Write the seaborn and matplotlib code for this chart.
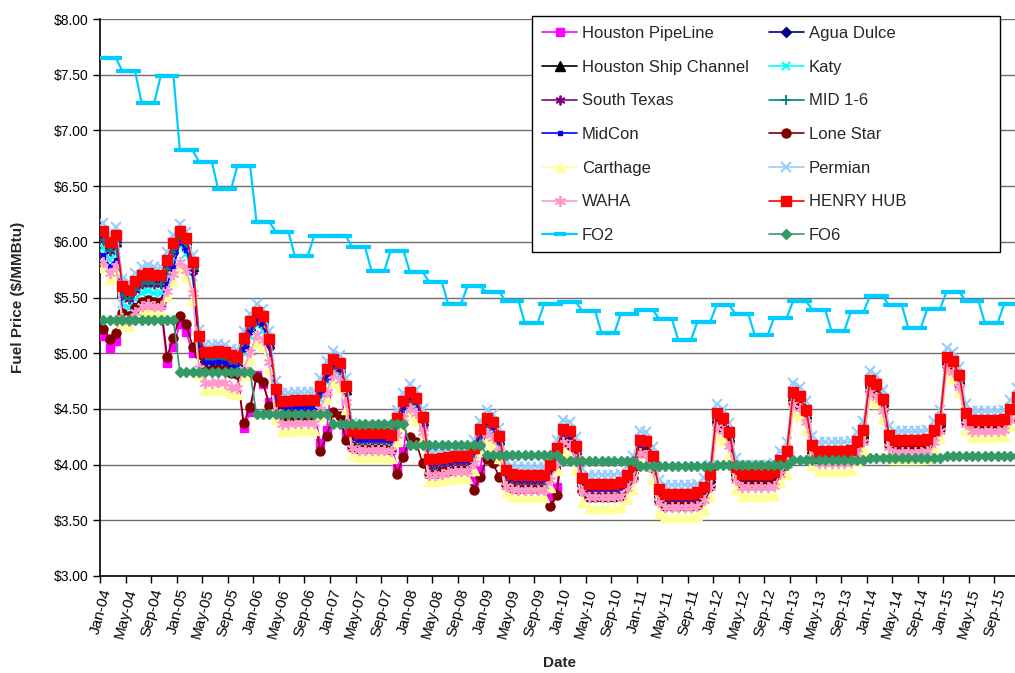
import numpy as np
import pandas as pd
import matplotlib
matplotlib.use("Agg")
import matplotlib.pyplot as plt
import seaborn as sns
from matplotlib.lines import Line2D
from matplotlib.patches import Rectangle
from matplotlib.ticker import FuncFormatter

# ---------------------------------------------------------------- data
# Henry Hub monthly forward prices, Jan-2004 .. Dec-2015 ($/MMBtu)
henry_hub = [
    6.10, 6.00, 6.06, 5.60, 5.57, 5.65, 5.70, 5.72, 5.70, 5.70, 5.84, 5.99,
    6.10, 6.03, 5.82, 5.15, 5.01, 5.01, 5.02, 5.01, 4.98, 4.97, 5.14, 5.29,
    5.37, 5.33, 5.13, 4.68, 4.57, 4.57, 4.58, 4.58, 4.58, 4.58, 4.71, 4.86,
    4.95, 4.91, 4.71, 4.30, 4.28, 4.28, 4.28, 4.28, 4.28, 4.27, 4.42, 4.57,
    4.65, 4.60, 4.43, 4.05, 4.05, 4.06, 4.07, 4.08, 4.08, 4.08, 4.15, 4.32,
    4.42, 4.38, 4.26, 3.95, 3.92, 3.91, 3.91, 3.91, 3.91, 3.91, 4.00, 4.15,
    4.32, 4.30, 4.17, 3.88, 3.83, 3.83, 3.83, 3.83, 3.83, 3.84, 3.91, 4.00,
    4.22, 4.21, 4.08, 3.78, 3.74, 3.74, 3.74, 3.74, 3.74, 3.75, 3.80, 3.92,
    4.46, 4.42, 4.29, 3.98, 3.92, 3.92, 3.92, 3.92, 3.92, 3.93, 4.04, 4.12,
    4.65, 4.62, 4.49, 4.18, 4.12, 4.12, 4.12, 4.12, 4.12, 4.13, 4.21, 4.31,
    4.76, 4.72, 4.59, 4.27, 4.22, 4.22, 4.22, 4.22, 4.22, 4.23, 4.31, 4.41,
    4.97, 4.93, 4.80, 4.46, 4.40, 4.40, 4.40, 4.40, 4.40, 4.41, 4.50, 4.61,
]

# Yearly basis to Henry Hub for each gas hub, 2004 .. 2015 ($/MMBtu)
basis_houston_pipeline = [-0.27, -0.13, -0.09, -0.06, -0.08, -0.08, -0.06, -0.06, -0.07, -0.07, -0.07, -0.07]
basis_agua_dulce = [-0.06, -0.05, -0.05, -0.04, -0.04, -0.04, -0.04, -0.04, -0.04, -0.04, -0.03, -0.03]
basis_ship_channel = [-0.05, -0.04, -0.04, -0.03, -0.03, -0.03, -0.03, -0.03, -0.03, -0.03, -0.02, -0.02]
basis_katy = [-0.16, -0.14, -0.12, -0.11, -0.10, -0.10, -0.09, -0.08, -0.07, -0.07, -0.06, -0.05]
basis_south_texas = [-0.08, -0.08, -0.07, -0.06, -0.06, -0.06, -0.05, -0.05, -0.06, -0.06, -0.06, -0.06]
basis_mid_1_6 = [-0.08, -0.06, -0.05, -0.05, -0.05, -0.05, -0.05, -0.05, -0.05, -0.05, -0.05, -0.05]
basis_midcon = [-0.22, -0.10, -0.06, -0.05, -0.04, -0.04, -0.04, -0.04, -0.04, -0.04, -0.03, -0.03]
basis_lone_star = [-0.24, -0.16, -0.15, -0.14, -0.13, -0.13, -0.12, -0.11, -0.10, -0.09, -0.09, -0.08]
basis_carthage = [-0.33, -0.34, -0.27, -0.21, -0.20, -0.20, -0.22, -0.21, -0.20, -0.18, -0.17, -0.15]
basis_permian = [0.07, 0.06, 0.07, 0.07, 0.07, 0.07, 0.08, 0.08, 0.08, 0.08, 0.08, 0.08]
basis_waha = [-0.28, -0.28, -0.21, -0.15, -0.14, -0.14, -0.12, -0.12, -0.12, -0.11, -0.11, -0.10]

# Winter months where Lone Star / Houston PipeLine trade well below the pack
lone_star_winter = {
    "2004-01": 5.22, "2004-02": 5.13, "2004-03": 5.18,
    "2004-11": 4.97, "2004-12": 5.14, "2005-01": 5.33, "2005-02": 5.26, "2005-03": 5.06,
    "2005-11": 4.37, "2005-12": 4.52, "2006-01": 4.79, "2006-02": 4.74, "2006-03": 4.53,
    "2006-11": 4.12, "2006-12": 4.26, "2007-01": 4.47, "2007-02": 4.44, "2007-03": 4.22,
    "2007-11": 3.92, "2007-12": 4.07, "2008-01": 4.25, "2008-02": 4.20, "2008-03": 4.01,
    "2008-11": 3.77, "2008-12": 3.89, "2009-01": 4.05, "2009-02": 4.01, "2009-03": 3.89,
    "2009-11": 3.63, "2009-12": 3.73,
}
houston_pipeline_winter = {
    "2004-01": 5.15, "2004-02": 5.05, "2004-03": 5.11,
    "2004-11": 4.91, "2004-12": 5.06, "2005-01": 5.26, "2005-02": 5.19, "2005-03": 5.00,
    "2005-11": 4.33, "2005-12": 4.47, "2006-01": 4.80, "2006-02": 4.72, "2006-03": 4.56,
    "2006-11": 4.19, "2006-12": 4.31, "2007-03": 4.28,
    "2007-11": 3.97, "2007-12": 4.12,
    "2008-11": 3.85, "2008-12": 3.95,
    "2009-11": 3.71, "2009-12": 3.80,
}

# Fuel oil: No.2 quarterly, No.6 yearly ($/MMBtu)
fo2_quarterly = [
    7.65, 7.53, 7.25, 7.49,
    6.82, 6.72, 6.47, 6.68,
    6.18, 6.09, 5.87, 6.05,
    6.05, 5.95, 5.74, 5.92,
    5.73, 5.64, 5.44, 5.60,
    5.55, 5.47, 5.27, 5.44,
    5.46, 5.38, 5.18, 5.35,
    5.39, 5.31, 5.12, 5.28,
    5.43, 5.35, 5.16, 5.32,
    5.47, 5.39, 5.20, 5.37,
    5.51, 5.43, 5.23, 5.40,
    5.55, 5.47, 5.27, 5.44,
]
fo6_yearly = [5.30, 4.83, 4.45, 4.36, 4.18, 4.09, 4.03, 3.99, 4.00, 4.04, 4.06, 4.08]

tick_labels = [f"{m}-{y:02d}" for y in range(4, 16) for m in ("Jan", "May", "Sep")]

# ---------------------------------------------------------------- frame
months = pd.date_range("2004-01-01", periods=144, freq="MS")
df = pd.DataFrame({"x": np.arange(144) + 0.5, "month": months.strftime("%Y-%m")})
year_idx = months.year - 2004
hh = np.array(henry_hub)


def hub(basis, winter=None):
    vals = hh + np.array(basis)[year_idx]
    if winter:
        for key, v in winter.items():
            vals[df.index[df["month"] == key][0]] = v
    return vals


df["Houston PipeLine"] = hub(basis_houston_pipeline, houston_pipeline_winter)
df["Agua Dulce"] = hub(basis_agua_dulce)
df["Houston Ship Channel"] = hub(basis_ship_channel)
df["Katy"] = hub(basis_katy)
df["South Texas"] = hub(basis_south_texas)
df["MID 1-6"] = hub(basis_mid_1_6)
df["MidCon"] = hub(basis_midcon)
df["Lone Star"] = hub(basis_lone_star, lone_star_winter)
df["Carthage"] = hub(basis_carthage)
df["Permian"] = hub(basis_permian)
df["WAHA"] = hub(basis_waha)
df["HENRY HUB"] = hh
df["FO2"] = np.repeat(fo2_quarterly, 3)
df["FO6"] = np.repeat(fo6_yearly, 12)

asterisk = (6, 2, 0)
styles = {
    "Houston PipeLine": dict(color="#FF00FF", marker="s", ms=6),
    "Agua Dulce": dict(color="#000080", marker="D", ms=5),
    "Houston Ship Channel": dict(color="#000000", marker="^", ms=6.5),
    "Katy": dict(color="#00FFFF", marker="x", ms=6, mew=1.5),
    "South Texas": dict(color="#800080", marker=asterisk, ms=7, mew=1.3),
    "MID 1-6": dict(color="#008080", marker="+", ms=7, mew=1.3),
    "MidCon": dict(color="#0000FF", marker="s", ms=2.5),
    "Lone Star": dict(color="#800000", marker="o", ms=6.5),
    "Carthage": dict(color="#FFFF99", marker="^", ms=7.5),
    "Permian": dict(color="#99CCFF", marker="x", ms=7, mew=1.5),
    "WAHA": dict(color="#FF99CC", marker=asterisk, ms=8, mew=1.3),
    "HENRY HUB": dict(color="#FF0000", marker="s", ms=7),
    "FO2": dict(color="#00CCFF", marker="_", ms=8, mew=3, lw=1.6),
    "FO6": dict(color="#339966", marker="D", ms=5.5),
}

# ---------------------------------------------------------------- plot
sns.set_style("white")
plt.rcParams["font.family"] = ["Liberation Sans", "DejaVu Sans"]

W, H = 1015, 673
fig = plt.figure(figsize=(W / 100, H / 100), dpi=100)
ax = fig.add_axes([100 / W, 97 / H, 920 / W, 557 / H])

handles = {}
for z, (name, st) in enumerate(styles.items()):
    kw = dict(
        color=st["color"], marker=st["marker"], markersize=st["ms"],
        markerfacecolor=st["color"], markeredgecolor=st["color"],
        markeredgewidth=st.get("mew", 1.0), linewidth=st.get("lw", 1.2),
    )
    sns.lineplot(data=df, x="x", y=name, ax=ax, legend=False, zorder=3 + z, **kw)
    handles[name] = Line2D([], [], label=name, **kw)

ax.set_xlim(0, 144)
ax.set_ylim(3, 8)
ax.set_yticks(np.arange(3, 8.01, 0.5))
ax.yaxis.set_major_formatter(FuncFormatter(lambda v, _: f"${v:.2f}"))
ax.set_xticks(np.arange(0, 144, 4))
ax.set_xticklabels(tick_labels, rotation=75, ha="right", rotation_mode="anchor",
                   fontsize=11)
ax.tick_params(axis="y", labelsize=10)
ax.tick_params(axis="both", colors="black", direction="out",
               length=5, width=1, left=True, bottom=True)
ax.tick_params(axis="x", pad=3)

ax.grid(axis="y", color="#6e6e6e", linewidth=1.0)
ax.grid(axis="x", visible=False)
for side in ("top", "right"):
    ax.spines[side].set_visible(False)
for side in ("left", "bottom"):
    ax.spines[side].set_color("black")
    ax.spines[side].set_linewidth(1.2)
ax.set_axisbelow(True)

ax.set_ylabel("Fuel Price ($/MMBtu)", fontsize=11, fontweight="bold")
ax.yaxis.set_label_coords((25 - 100) / 920, 0.5)
ax.set_xlabel("Date", fontsize=11, fontweight="bold", va="top")
ax.xaxis.set_label_coords(0.5, (576 - 656) / 557)

# legend: white box with a thin black frame, entries filled row by row
box = (532, 16, 1000, 252)
fig.add_artist(Rectangle((box[0] / W, 1 - box[3] / H), (box[2] - box[0]) / W,
                         (box[3] - box[1]) / H, transform=fig.transFigure,
                         facecolor="white", edgecolor="black", linewidth=1.0,
                         zorder=5))
order = ["Houston PipeLine", "Houston Ship Channel", "South Texas", "MidCon",
         "Carthage", "WAHA", "FO2",
         "Agua Dulce", "Katy", "MID 1-6", "Lone Star", "Permian", "HENRY HUB", "FO6"]
leg = fig.legend(
    handles=[handles[n] for n in order], ncol=2, loc="upper left",
    bbox_to_anchor=(532 / W, 1 - 16 / H), bbox_transform=fig.transFigure,
    fontsize=12, frameon=False, numpoints=1, handlelength=2.1,
    handletextpad=0.3, columnspacing=1.2, labelspacing=1.12,
    borderpad=0.6, borderaxespad=0,
)
leg.set_zorder(6)

fig.savefig("out.png", dpi=100)
